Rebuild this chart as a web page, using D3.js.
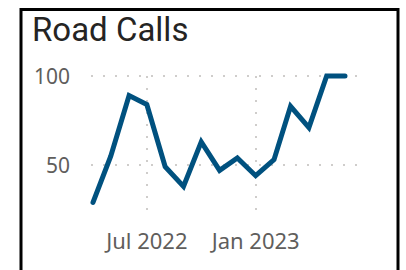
<!DOCTYPE html>
<html>
<head>
<meta charset="utf-8">
<script src="https://cdn.jsdelivr.net/npm/d3@7"></script>
<style>
  body { margin: 0; background: #fff; }
  svg { display: block; }
</style>
</head>
<body>
<div class="canvas"></div>
<script>
'use strict';

var TITLE = 'Road Calls';
var MONTHS = ['2022-04', '2022-05', '2022-06', '2022-07', '2022-08', '2022-09', '2022-10',
  '2022-11', '2022-12', '2023-01', '2023-02', '2023-03', '2023-04', '2023-05', '2023-06'];
var CALLS = [29, 55, 89, 84, 49, 38, 63, 47, 54, 44, 53, 83, 71, 100, 100];
var Y_TICKS = [50, 100];
var X_TICKS = ['2022-07', '2023-01'];

var LINE_COLOR = '#00517f';
var GRID_COLOR = '#cfcdcb';
var LABEL_COLOR = '#605e5c';

var parseMonth = d3.timeParse('%Y-%m');
var data = MONTHS.map(function(m, i) { return { date: parseMonth(m), value: CALLS[i] }; });

var svg = d3.select('.canvas').append('svg')
  .attr('width', 406)
  .attr('height', 270);

// card border
svg.append('rect')
  .attr('x', 21)
  .attr('y', 9.5)
  .attr('width', 377)
  .attr('height', 280)
  .style('fill', 'none')
  .style('stroke', '#000')
  .style('stroke-width', 3);

svg.append('text')
  .text(TITLE)
  .attr('x', 32)
  .attr('y', 41)
  .style('font-family', 'Roboto')
  .style('font-size', '33px')
  .style('fill', '#252423');

var x = d3.scaleTime()
  .domain(d3.extent(data, function(d) { return d.date; }))
  .range([93, 345]);
var y = d3.scaleLinear()
  .domain([50, 100])
  .range([165, 76]);

// horizontal grid
svg.selectAll('line.h-grid')
  .data(Y_TICKS)
  .enter()
  .append('line')
  .attr('x1', 91)
  .attr('x2', 358)
  .attr('y1', function(d) { return y(d); })
  .attr('y2', function(d) { return y(d); })
  .style('stroke', GRID_COLOR)
  .style('stroke-width', 2)
  .style('stroke-dasharray', '2,10');

// vertical grid
svg.selectAll('line.v-grid')
  .data(X_TICKS)
  .enter()
  .append('line')
  .attr('x1', function(d) { return Math.round(x(parseMonth(d))); })
  .attr('x2', function(d) { return Math.round(x(parseMonth(d))); })
  .attr('y1', 76)
  .attr('y2', 220)
  .style('stroke', GRID_COLOR)
  .style('stroke-width', 2)
  .style('stroke-dasharray', '2,10');

svg.selectAll('text.y-label')
  .data(Y_TICKS)
  .enter()
  .append('text')
  .text(function(d) { return d; })
  .attr('x', 70)
  .attr('y', function(d) { return y(d) + 7.5; })
  .attr('text-anchor', 'end')
  .style('font-family', 'Noto Sans')
  .style('font-size', '21px')
  .style('fill', LABEL_COLOR);

var fmt = d3.timeFormat('%b %Y');
svg.selectAll('text.x-label')
  .data(X_TICKS)
  .enter()
  .append('text')
  .text(function(d) { return fmt(parseMonth(d)); })
  .attr('x', function(d) { return x(parseMonth(d)); })
  .attr('y', 249)
  .attr('text-anchor', 'middle')
  .style('font-family', 'Noto Sans')
  .style('font-size', '22px')
  .style('fill', LABEL_COLOR);

var line = d3.line()
  .x(function(d) { return x(d.date); })
  .y(function(d) { return y(d.value); });

svg.append('path')
  .datum(data)
  .attr('d', line)
  .style('fill', 'none')
  .style('stroke', LINE_COLOR)
  .style('stroke-width', 5)
  .style('stroke-linejoin', 'miter')
  .style('stroke-linecap', 'round');
</script>
</body>
</html>
